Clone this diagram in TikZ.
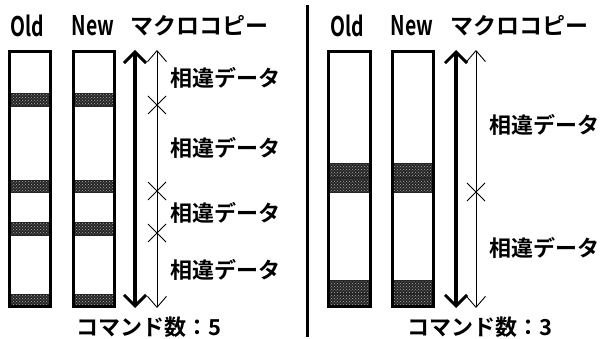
\documentclass[tikz,border=0pt]{standalone}
\usepackage{fontspec}
\setmainfont{Noto Sans CJK JP}[BoldFont={* Bold}]
\usetikzlibrary{arrows.meta,patterns}
\begin{document}
\begin{tikzpicture}[x=1pt,y=-1pt,
  bar/.style={draw=black,line width=3.2pt},
  band/.style={fill=black!85,draw=none},
  dotty/.style={pattern=crosshatch dots,pattern color=black!35},
  gap/.style={draw=black!30,line width=0.8pt},
  thickarr/.style={line width=3.6pt,{Straight Barb[length=11pt,width=22pt,line width=3pt]}-{Straight Barb[length=11pt,width=22pt,line width=3pt]}},
  thinarr/.style={line width=0.9pt,{Straight Barb[length=11pt,width=19pt,line width=0.9pt]}-{Straight Barb[length=11pt,width=19pt,line width=0.9pt]}},
  xmark/.style={line width=0.9pt},
  lbl/.style={font=\fontsize{22}{24}\selectfont\bfseries,inner sep=0pt},
  hdr/.style={font=\fontsize{23}{25}\selectfont\bfseries,inner sep=0pt},
  eng/.style={font=\fontsize{27}{29}\selectfont\bfseries,inner sep=0pt,xscale=0.72}
]
\useasboundingbox (0,0) rectangle (608,339);
\fill[white] (0,0) rectangle (608,339);

% ---------- left panel ----------
\node[eng] (oldL) at (27,26) {Old};
\node[eng] (newL) at (93,26) {New};
\node[hdr] (mcL) at (199,26) {マクロコピー};

\foreach \a/\b in {93/107,180/193,222/236,294/308}{
  \fill[band] (9.5,\a) rectangle (50.5,\b);
  \fill[dotty] (9.5,\a+1.5) rectangle (50.5,\b-1.5);
  \fill[band] (73.5,\a) rectangle (114.5,\b);
  \fill[dotty] (73.5,\a+1.5) rectangle (114.5,\b-1.5);
}
\draw[bar] (9.5,51.5) rectangle (50.5,306.5);
\draw[bar] (73.5,51.5) rectangle (114.5,306.5);

\coordinate (tkTopL) at (135,50);
\coordinate (tkBotL) at (135,308);
\coordinate (tnTopL) at (157,50);
\coordinate (tnBotL) at (157,308);
\draw[thickarr] (tkTopL) -- (tkBotL);
\draw[thinarr] (tnTopL) -- (tnBotL);
\foreach \y in {105,191,233}{
  \draw[xmark] (148,\y-9) -- (166,\y+9) (148,\y+9) -- (166,\y-9);
}
\node[lbl,anchor=west] (d1) at (170,78) {相違データ};
\node[lbl,anchor=west] (d2) at (170,148) {相違データ};
\node[lbl,anchor=west] (d3) at (170,213) {相違データ};
\node[lbl,anchor=west] (d4) at (170,270) {相違データ};
\node[lbl] (cmdL) at (149,327) {コマンド数：5};

% divider
\coordinate (divT) at (307,5);
\coordinate (divB) at (307,337);
\draw[line width=3pt] (divT) -- (divB);

% ---------- right panel ----------
\node[eng] (oldR) at (347,26) {Old};
\node[eng] (newR) at (412,26) {New};
\node[hdr] (mcR) at (519,26) {マクロコピー};

\foreach \a/\b in {163/178,178/193,280/294,294/308}{
  \fill[band] (328.5,\a) rectangle (370.5,\b);
  \fill[dotty] (328.5,\a+1.5) rectangle (370.5,\b-1.5);
  \fill[band] (392.5,\a) rectangle (433.5,\b);
  \fill[dotty] (392.5,\a+1.5) rectangle (433.5,\b-1.5);
}
\draw[bar] (328.5,51.5) rectangle (370.5,306.5);
\draw[bar] (392.5,51.5) rectangle (433.5,306.5);

\coordinate (tkTopR) at (456,50);
\coordinate (tkBotR) at (456,308);
\coordinate (tnTopR) at (476,50);
\coordinate (tnBotR) at (476,308);
\draw[thickarr] (tkTopR) -- (tkBotR);
\draw[thinarr] (tnTopR) -- (tnBotR);
\draw[xmark] (467,183) -- (485,201) (467,201) -- (485,183);
\node[lbl,anchor=west] (e1) at (489,125) {相違データ};
\node[lbl,anchor=west] (e2) at (489,248) {相違データ};
\node[lbl] (cmdR) at (480,327) {コマンド数：3};
\end{tikzpicture}
\end{document}
